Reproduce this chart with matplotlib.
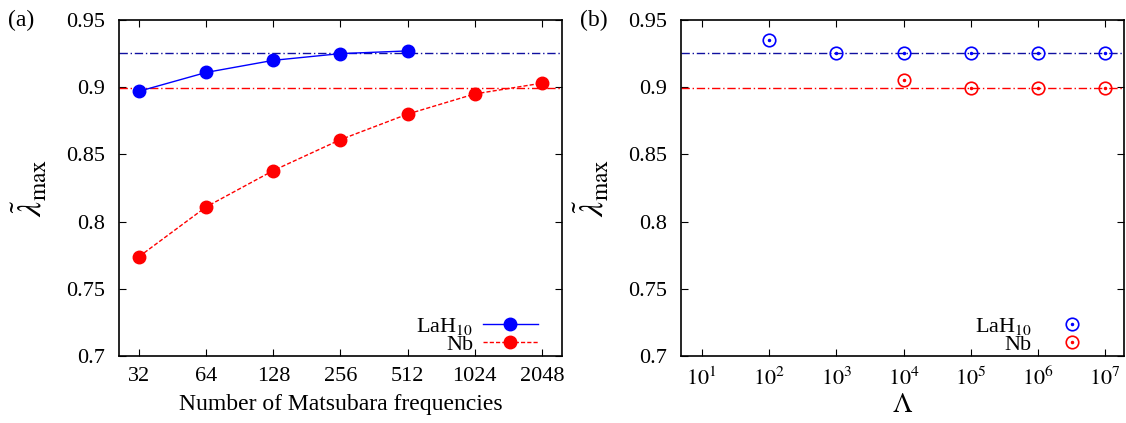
import matplotlib
matplotlib.use("Agg")
import matplotlib.pyplot as plt
from matplotlib.legend_handler import HandlerTuple
from matplotlib.lines import Line2D
import numpy as np

plt.rcParams['font.family'] = ['Liberation Serif', 'DejaVu Serif']
plt.rcParams['mathtext.fontset'] = 'stix'
plt.rcParams['font.size'] = 16

# ---- data ----
n_matsubara = [32, 64, 128, 256, 512, 1024, 2048]
lah10_n = [0.897, 0.911, 0.920, 0.925, 0.927]
nb_n = [0.774, 0.811, 0.838, 0.861, 0.880, 0.895, 0.903]

lam_vals = [1e2, 1e3, 1e4, 1e5, 1e6, 1e7]
lah10_lam = [0.935, 0.9255, 0.9255, 0.9255, 0.9255, 0.9255]
nb_lam_x = [1e4, 1e5, 1e6, 1e7]
nb_lam = [0.905, 0.8995, 0.8995, 0.8995]

ref_lah10 = 0.9255
ref_nb = 0.8995

yticks = [0.7, 0.75, 0.8, 0.85, 0.9, 0.95]
ytick_labels = ['0.7', '0.75', '0.8', '0.85', '0.9', '0.95']
xticks_a = n_matsubara
xtick_labels_a = ['32', '64', '128', '256', '512', '1024', '2048']
xticks_b = [1e1, 1e2, 1e3, 1e4, 1e5, 1e6, 1e7]
xtick_labels_b = [r'$10^{%d}$' % i for i in range(1, 8)]

blue = '#0000ff'
dblue = '#1010a0'
red = '#ff0000'
dashdot = (0, (6, 2, 1, 2))

fig = plt.figure(figsize=(11.26, 4.23), dpi=100)
ax1 = fig.add_axes([0.1057, 0.1584, 0.3934, 0.7943])
ax2 = fig.add_axes([0.6048, 0.1584, 0.3934, 0.7943])

def style(ax):
    ax.set_ylim(0.7, 0.95)
    ax.set_yticks(yticks)
    ax.set_yticklabels(ytick_labels)
    ax.tick_params(which='both', direction='in', top=True, right=True,
                   length=5, width=0.8, labelsize=16)
    ax.tick_params(axis='y', pad=10)
    ax.tick_params(axis='x', pad=8)
    ax.tick_params(which='minor', length=0)
    for s in ax.spines.values():
        s.set_linewidth(1.2)
    ax.set_ylabel(r'$\tilde{\lambda}_{\mathrm{max}}$', fontsize=24, labelpad=12)

# Panel (a)
ax1.set_xscale('log', base=2)
ax1.set_xlim(26, 2521)
ax1.axhline(ref_lah10, color=dblue, ls=dashdot, lw=1.0)
ax1.axhline(ref_nb, color=red, ls=dashdot, lw=1.0)
ax1.plot(n_matsubara[:len(lah10_n)], lah10_n, color=blue, lw=1.0,
         marker='o', ms=9, label=r'LaH$_{10}$')
ax1.plot(n_matsubara, nb_n, color=red, lw=1.0, ls=(0, (3, 1.5)),
         marker='o', ms=9, label='Nb')
ax1.set_xticks(xticks_a)
ax1.set_xticklabels(xtick_labels_a)
ax1.minorticks_off()
style(ax1)
ax1.set_xlabel('Number of Matsubara frequencies', fontsize=17, labelpad=6)
ax1.legend(loc='lower right', frameon=False, markerfirst=False,
           handlelength=2.45, fontsize=16, borderaxespad=0.0,
           borderpad=0.2, labelspacing=-0.1, handletextpad=0.45,
           bbox_to_anchor=(0.955, -0.01))

# Panel (b)
ax2.set_xscale('log')
ax2.set_xlim(4.9, 1.9e7)
ax2.axhline(ref_lah10, color=dblue, ls=dashdot, lw=1.0)
ax2.axhline(ref_nb, color=red, ls=dashdot, lw=1.0)
ax2.plot(lam_vals, lah10_lam, ls='none', marker='o', ms=9, mfc='none',
         mec=blue, mew=1.2)
ax2.plot(lam_vals, lah10_lam, ls='none', marker='o', ms=1.5, color=blue)
ax2.plot(nb_lam_x, nb_lam, ls='none', marker='o', ms=9, mfc='none',
         mec=red, mew=1.2)
ax2.plot(nb_lam_x, nb_lam, ls='none', marker='o', ms=1.5, color=red)
ax2.set_xticks(xticks_b)
ax2.set_xticklabels(xtick_labels_b)
ax2.minorticks_off()
style(ax2)
ax2.set_xlabel(r'$\Lambda$', fontsize=20, labelpad=2)

def circ(c):
    return (Line2D([], [], ls='none', marker='o', ms=9, mfc='none', mec=c, mew=1.2),
            Line2D([], [], ls='none', marker='o', ms=1.5, color=c))

ax2.legend([circ(blue), circ(red)], [r'LaH$_{10}$', 'Nb'],
           handler_map={tuple: HandlerTuple(ndivide=1, pad=0)},
           loc='lower right', frameon=False, markerfirst=False,
           handlelength=2.45, fontsize=16, borderaxespad=0.0,
           borderpad=0.2, labelspacing=-0.1, handletextpad=0.6,
           bbox_to_anchor=(0.955, -0.01))

fig.text(8 / 1126, 1 - 20 / 423, '(a)', fontsize=17, va='center', ha='left')
fig.text(580 / 1126, 1 - 20 / 423, '(b)', fontsize=17, va='center', ha='left')

fig.savefig('out.png', dpi=100)
